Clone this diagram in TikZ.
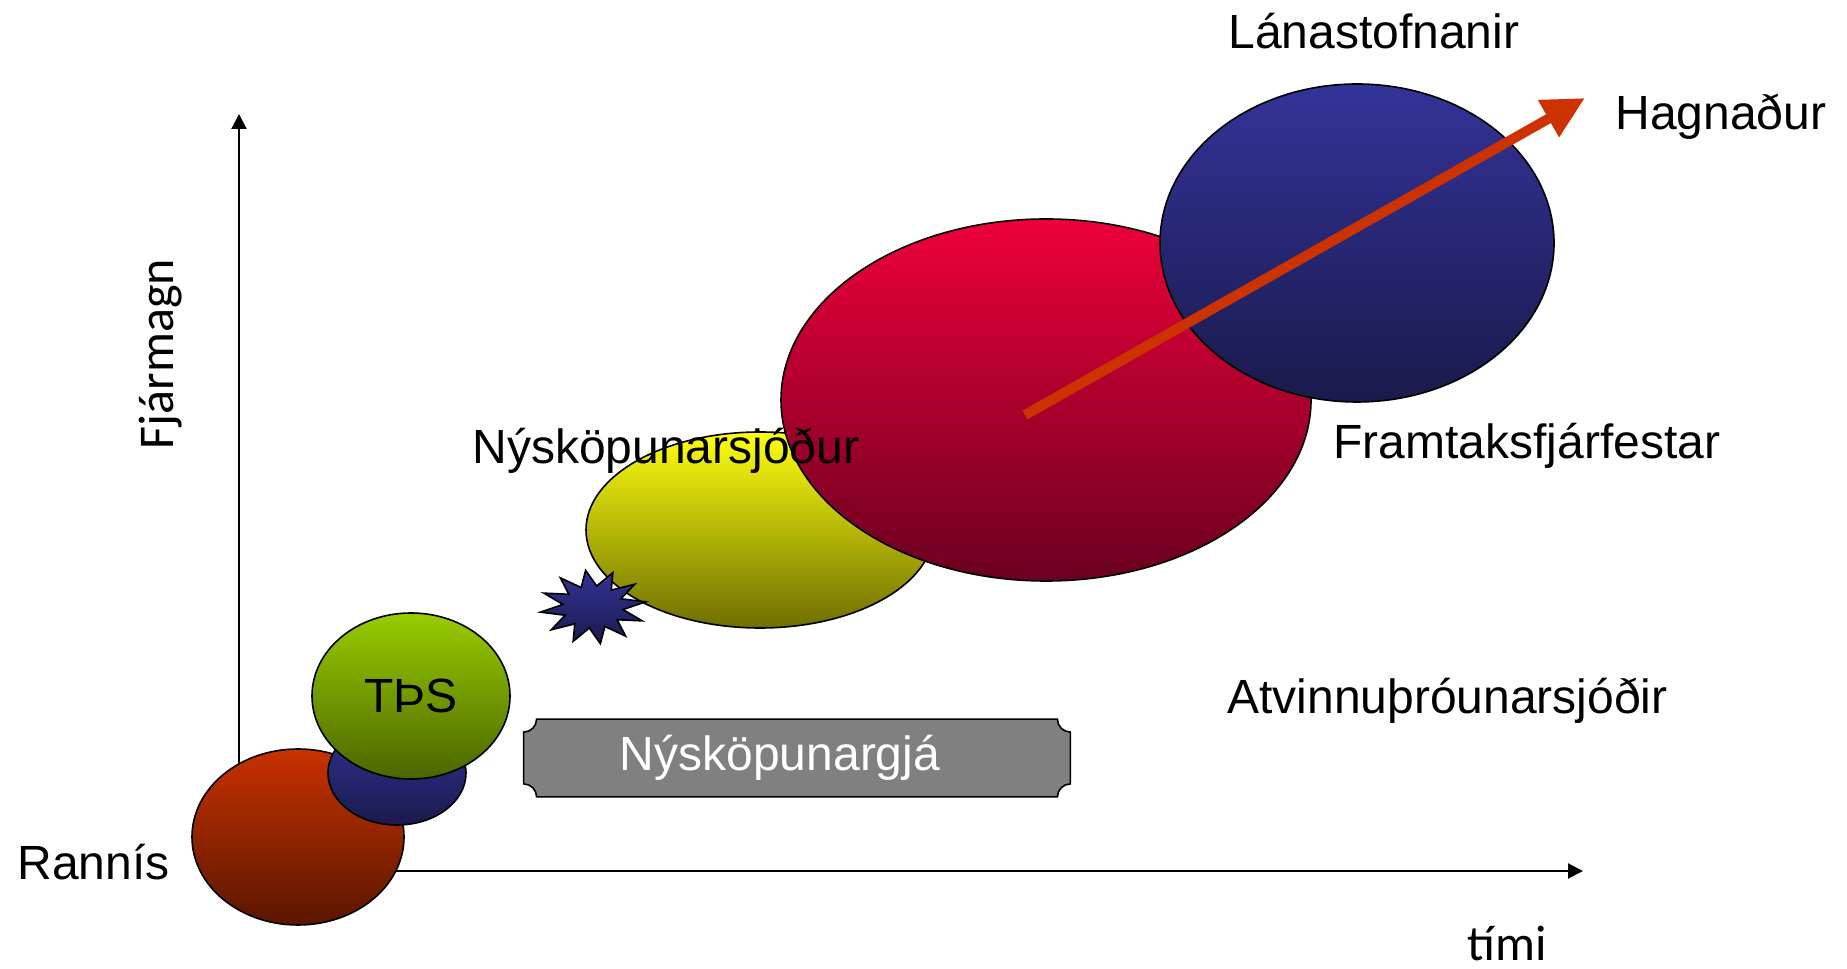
\documentclass[tikz,border=0pt]{standalone}
\usepackage{fontspec}
\setmainfont{Liberation Sans}
\newfontfamily\calfont{Carlito}
\usetikzlibrary{arrows.meta,positioning,shapes.geometric,calc}
\definecolor{rusttop}{HTML}{C83200}
\definecolor{rustbot}{HTML}{5A1600}
\definecolor{navytop}{HTML}{333399}
\definecolor{navybot}{HTML}{1A1A4C}
\definecolor{limetop}{HTML}{99CC00}
\definecolor{limebot}{HTML}{4A6600}
\definecolor{sunbot}{HTML}{6E6E00}
\definecolor{suntop}{HTML}{FFFF10}
\definecolor{crimtop}{HTML}{EE003A}
\definecolor{crimbot}{HTML}{6A0020}
\definecolor{arr}{HTML}{CC3300}
\definecolor{plq}{HTML}{808080}
\newcommand{\lbfont}{\fontsize{24}{28}\selectfont}
\newcommand{\axfont}{\calfont\fontsize{25}{30}\selectfont}
\tikzset{
  blob/.style={ellipse,draw=black,line width=0.8pt,inner sep=0pt,font=\lbfont},
  lbl/.style={inner sep=0pt,anchor=base west,font=\lbfont},
  ax/.style={-{Triangle[length=7.5pt,width=7.5pt]},line width=1pt},
  gainarrow/.style={-{Triangle[length=21pt,width=20pt]},line width=5pt,draw=arr},
}

\begin{document}
\begin{tikzpicture}[x=0.5pt,y=0.5pt]
\useasboundingbox (0,0) rectangle (1847,969);
% axes
\coordinate (o) at (239,98);
\coordinate (ytop) at (239,855);
\coordinate (xend) at (1583,98);
\draw[ax] (o) -- (ytop);
\draw[ax] (o) -- (xend);
\node[inner sep=0pt,anchor=base,rotate=90,font=\axfont] (fja) at (173,615) {Fjármagn};
\node[inner sep=0pt,anchor=base west,font=\axfont] (timi) at (1467,9) {tími};
% funds, small to large
\node[blob,top color=rusttop,bottom color=rustbot,minimum width=106pt,minimum height=88pt] (rannis) at (298,132) {};
\node[blob,top color=navytop,bottom color=navybot,minimum width=69pt,minimum height=52pt] (tpsb) at (397,196) {};
\node[blob,top color=limetop,bottom color=limebot,minimum width=99pt,minimum height=83pt] (tps) at (411,273) {TÞS};
\node[blob,top color=suntop,bottom color=sunbot,minimum width=174pt,minimum height=98pt] (nsj) at (760,439) {};
\begin{scope}[shift={(593,362)},xscale=1.06,yscale=0.74]
\node[star,star points=12,star point ratio=1.75,draw=black,line width=0.8pt,inner sep=0pt,
  minimum size=50pt,rotate=8,transform shape,top color=navytop,bottom color=navybot] (spark) at (0,0) {};
\end{scope}
\node[blob,top color=crimtop,bottom color=crimbot,minimum width=265pt,minimum height=181pt] (framtak) at (1046,569) {};
\node[blob,top color=navytop,bottom color=navybot,minimum width=197pt,minimum height=159pt] (lana) at (1357,726) {};
\coordinate (gtail) at (1025,554);
\coordinate (gtip) at (1585,871);
\draw[gainarrow] (gtail) -- (gtip);
% gap plaque
\node[minimum width=273pt,minimum height=38.5pt,inner sep=0pt] (gja) at (797,211) {};
\draw[fill=plq,line width=0.8pt] ($(gja.north west)+(6.5pt,0)$) -- ($(gja.north east)+(-6.5pt,0)$)
  arc[start angle=180,end angle=270,radius=6.5pt] -- ($(gja.south east)+(0,6.5pt)$)
  arc[start angle=90,end angle=180,radius=6.5pt] -- ($(gja.south west)+(6.5pt,0)$)
  arc[start angle=0,end angle=90,radius=6.5pt] -- ($(gja.north west)+(0,-6.5pt)$)
  arc[start angle=270,end angle=360,radius=6.5pt] -- cycle;
\node[text=white,font=\lbfont,inner sep=0pt] (gjatxt) at (780,211) {Nýsköpunargjá};
% labels
\node[lbl] (lanal) at (1228,920) {Lánastofnanir};
\node[lbl] (hagn) at (1615,839) {Hagnaður};
\node[lbl] (framl) at (1333,510) {Framtaksfjárfestar};
\node[lbl] (nsjl) at (472,505) {Nýsköpunarsjóður};
\node[lbl] (atvl) at (1227,255) {Atvinnuþróunarsjóðir};
\node[lbl] (rannl) at (17,89) {Rannís};
\end{tikzpicture}
\end{document}
